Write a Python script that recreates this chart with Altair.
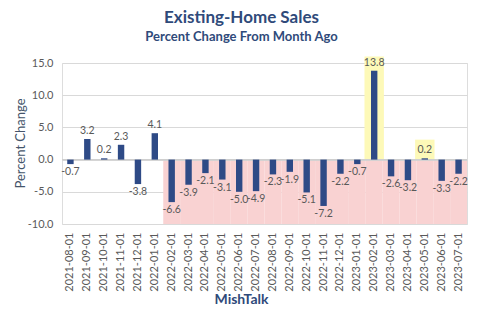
import altair as alt
import pandas as pd

months = ["2021-08-01", "2021-09-01", "2021-10-01", "2021-11-01", "2021-12-01",
          "2022-01-01", "2022-02-01", "2022-03-01", "2022-04-01", "2022-05-01",
          "2022-06-01", "2022-07-01", "2022-08-01", "2022-09-01", "2022-10-01",
          "2022-11-01", "2022-12-01", "2023-01-01", "2023-02-01", "2023-03-01",
          "2023-04-01", "2023-05-01", "2023-06-01", "2023-07-01"]
changes = [-0.7, 3.2, 0.2, 2.3, -3.8, 4.1, -6.6, -3.9, -2.1, -3.1, -5.0, -4.9,
           -2.3, -1.9, -5.1, -7.2, -2.2, -0.7, 13.8, -2.6, -3.2, 0.2, -3.3, -2.2]
shade_months = months[6:]
shade_top = 0
shade_bottom = -10
highlight_months = ["2023-02-01", "2023-05-01"]
highlight_tops = [16.0, 3.1]
y_ticks = [-10, -5, 0, 5, 10, 15]

FONT = "Lato"
NAVY = "#2E4A86"
TXT = "#595959"
TITLE_C = "#2F4A7A"

df = pd.DataFrame({"month": months, "change": changes})
shade_df = pd.DataFrame({"month": shade_months,
                         "top": [shade_top] * len(shade_months),
                         "bottom": [shade_bottom] * len(shade_months)})
hl_df = pd.DataFrame({"month": highlight_months, "top": highlight_tops,
                      "base": [0] * len(highlight_months)})

xscale = alt.Scale(domain=months, paddingInner=0, paddingOuter=0)
yscale = alt.Scale(domain=[-10, 15], nice=False)

x_axis = alt.Axis(labelAngle=270, labelColor=TXT, labelFontSize=11,
                  labelFont=FONT, labelPadding=8, ticks=False, domain=False,
                  labelOverlap=False, grid=False,
                  title="MishTalk", titleFont=FONT, titleFontSize=14,
                  titleFontWeight="bold", titleColor=TITLE_C,
                  titleX=179, titleY=75, titleAlign="center",
                  titleBaseline="middle")
y_axis = alt.Axis(values=y_ticks, format=".1f",
                  labelExpr="replace(datum.label, '\u2212', '-')",
                  labelColor=TXT,
                  labelFontSize=11, labelFont=FONT, labelPadding=9,
                  labelOverlap=False, grid=True,
                  ticks=False, domain=False, gridColor="#D9D9D9",
                  title="Percent Change", titleFont=FONT, titleFontSize=13,
                  titleFontWeight="normal", titleColor="#44546A",
                  titleAngle=270, titleX=-42, titleY=80,
                  titleAlign="center", titleBaseline="middle")

X = alt.X("month:O", scale=xscale, sort=months, axis=x_axis)


def Y(field):
    return alt.Y(field, scale=yscale, axis=y_axis)


base = alt.Chart(df).transform_calculate(
    lbl="replace(format(datum.change, '.1f'), '\u2212', '-')")

shade = alt.Chart(shade_df).mark_rect(color="#F9D2D2").encode(
    x=X, y=Y("top:Q"), y2="bottom:Q")

hl = alt.Chart(hl_df).mark_bar(color="#FDF9B8", width=alt.RelativeBandSize(1.15)).encode(
    x=X, y=Y("top:Q"), y2="base:Q")

zero_line = alt.Chart(df).mark_rule(color="#CFCFCF", strokeWidth=1).encode(
    y=alt.Y(datum=0, scale=yscale, axis=y_axis))

bars = alt.Chart(df).mark_bar(color=NAVY, width=alt.RelativeBandSize(0.38)).encode(
    x=X, y=Y("change:Q"), y2=alt.datum(0))

lab_pos = base.transform_filter("datum.change >= 0").mark_text(
    baseline="bottom", dy=-3, font=FONT, fontSize=10.5, color=TXT).encode(
    x=X, y=Y("change:Q"), text="lbl:N")

lab_neg = base.transform_filter("datum.change < 0").mark_text(
    baseline="top", dy=3, font=FONT, fontSize=10.5, color=TXT).encode(
    x=X, y=Y("change:Q"), text="lbl:N")

chart = alt.layer(shade, hl, zero_line, bars, lab_pos, lab_neg).properties(
    width=405, height=161,
    autosize=alt.AutoSizeParams(type="none"),
    padding={"left": 62, "top": 63, "right": 18, "bottom": 98},
    title=alt.TitleParams(text="Existing-Home Sales",
                          subtitle="Percent Change From Month Ago",
                          font=FONT, fontSize=17, fontWeight="bold", color=TITLE_C,
                          subtitleFont=FONT, subtitleFontSize=13,
                          subtitleFontWeight="bold", subtitleColor=TITLE_C,
                          subtitlePadding=4,
                          anchor="middle", dx=-23, offset=12)
).configure_view(strokeWidth=0, stroke="transparent").configure(background="white")

chart.save("out.html", embed_options={"renderer": "svg", "actions": False})
